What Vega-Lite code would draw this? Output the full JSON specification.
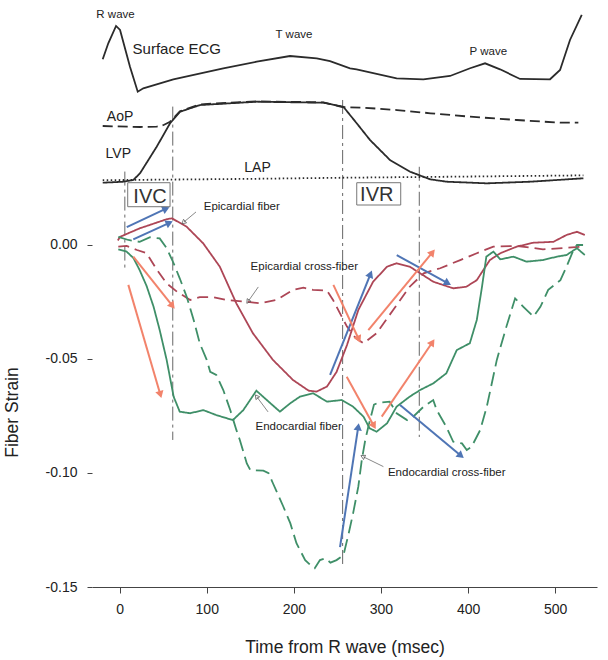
{
  "$schema": "https://vega.github.io/schema/vega-lite/v6.json",
  "width": 505,
  "height": 577,
  "autosize": {"type": "none"},
  "padding": {"left": 92, "top": 10, "right": 11, "bottom": 73},
  "background": "white",
  "config": {"view": {"stroke": null}, "font": "Liberation Sans", "axis": {"grid": false}},
  "datasets": {
    "strain": [
      {"g":"Epicardial fiber","t":-2,"s":0.002},{"g":"Epicardial fiber","t":0.5,"s":0.0036},{"g":"Epicardial fiber","t":23,"s":0.0073},{"g":"Epicardial fiber","t":54,"s":0.0113},{"g":"Epicardial fiber","t":60,"s":0.0117},{"g":"Epicardial fiber","t":77,"s":0.008},{"g":"Epicardial fiber","t":96,"s":0.0007},{"g":"Epicardial fiber","t":115,"s":-0.0095},{"g":"Epicardial fiber","t":134,"s":-0.0256},{"g":"Epicardial fiber","t":153,"s":-0.0387},{"g":"Epicardial fiber","t":176,"s":-0.0504},{"g":"Epicardial fiber","t":199,"s":-0.0592},{"g":"Epicardial fiber","t":217,"s":-0.0639},{"g":"Epicardial fiber","t":226,"s":-0.0643},{"g":"Epicardial fiber","t":238,"s":-0.0621},{"g":"Epicardial fiber","t":249,"s":-0.0557},{"g":"Epicardial fiber","t":261,"s":-0.0439},{"g":"Epicardial fiber","t":274,"s":-0.0285},{"g":"Epicardial fiber","t":291,"s":-0.0161},{"g":"Epicardial fiber","t":307,"s":-0.0095},{"g":"Epicardial fiber","t":318,"s":-0.008},{"g":"Epicardial fiber","t":333,"s":-0.0095},{"g":"Epicardial fiber","t":345,"s":-0.0124},{"g":"Epicardial fiber","t":360,"s":-0.0161},{"g":"Epicardial fiber","t":383,"s":-0.019},{"g":"Epicardial fiber","t":398,"s":-0.0183},{"g":"Epicardial fiber","t":410,"s":-0.0154},{"g":"Epicardial fiber","t":425,"s":-0.0066},{"g":"Epicardial fiber","t":437,"s":-0.0036},{"g":"Epicardial fiber","t":456,"s":-0.0007},{"g":"Epicardial fiber","t":475,"s":0.001},{"g":"Epicardial fiber","t":498,"s":0.0014},{"g":"Epicardial fiber","t":513,"s":0.0044},{"g":"Epicardial fiber","t":525,"s":0.0058},{"g":"Epicardial fiber","t":534,"s":0.0044},
      {"g":"Epicardial cross-fiber","t":-1.5,"s":-0.0007},{"g":"Epicardial cross-fiber","t":8,"s":-0.0004},{"g":"Epicardial cross-fiber","t":20,"s":-0.0022},{"g":"Epicardial cross-fiber","t":31,"s":-0.0036},{"g":"Epicardial cross-fiber","t":43,"s":-0.011},{"g":"Epicardial cross-fiber","t":54,"s":-0.0168},{"g":"Epicardial cross-fiber","t":66,"s":-0.0205},{"g":"Epicardial cross-fiber","t":81,"s":-0.0241},{"g":"Epicardial cross-fiber","t":92,"s":-0.0229},{"g":"Epicardial cross-fiber","t":108,"s":-0.0229},{"g":"Epicardial cross-fiber","t":123,"s":-0.0241},{"g":"Epicardial cross-fiber","t":146,"s":-0.0249},{"g":"Epicardial cross-fiber","t":161,"s":-0.0256},{"g":"Epicardial cross-fiber","t":180,"s":-0.0241},{"g":"Epicardial cross-fiber","t":199,"s":-0.0197},{"g":"Epicardial cross-fiber","t":211,"s":-0.0187},{"g":"Epicardial cross-fiber","t":222,"s":-0.0197},{"g":"Epicardial cross-fiber","t":238,"s":-0.02},{"g":"Epicardial cross-fiber","t":245,"s":-0.0241},{"g":"Epicardial cross-fiber","t":253,"s":-0.03},{"g":"Epicardial cross-fiber","t":261,"s":-0.0358},{"g":"Epicardial cross-fiber","t":271,"s":-0.0408},{"g":"Epicardial cross-fiber","t":280,"s":-0.0431},{"g":"Epicardial cross-fiber","t":295,"s":-0.0387},{"g":"Epicardial cross-fiber","t":314,"s":-0.0285},{"g":"Epicardial cross-fiber","t":333,"s":-0.0183},{"g":"Epicardial cross-fiber","t":349,"s":-0.0124},{"g":"Epicardial cross-fiber","t":368,"s":-0.0102},{"g":"Epicardial cross-fiber","t":391,"s":-0.0066},{"g":"Epicardial cross-fiber","t":410,"s":-0.0036},{"g":"Epicardial cross-fiber","t":429,"s":-0.0007},{"g":"Epicardial cross-fiber","t":456,"s":-0.0004},{"g":"Epicardial cross-fiber","t":486,"s":-0.0019},{"g":"Epicardial cross-fiber","t":511,"s":-0.0013},{"g":"Epicardial cross-fiber","t":534,"s":-0.0007},
      {"g":"Endocardial fiber","t":-1.5,"s":-0.0019},{"g":"Endocardial fiber","t":8,"s":-0.0029},{"g":"Endocardial fiber","t":16,"s":-0.0058},{"g":"Endocardial fiber","t":23,"s":-0.011},{"g":"Endocardial fiber","t":31,"s":-0.018},{"g":"Endocardial fiber","t":39,"s":-0.0271},{"g":"Endocardial fiber","t":46,"s":-0.0373},{"g":"Endocardial fiber","t":54,"s":-0.0504},{"g":"Endocardial fiber","t":62,"s":-0.0665},{"g":"Endocardial fiber","t":69,"s":-0.0731},{"g":"Endocardial fiber","t":81,"s":-0.0738},{"g":"Endocardial fiber","t":96,"s":-0.0724},{"g":"Endocardial fiber","t":111,"s":-0.0746},{"g":"Endocardial fiber","t":130,"s":-0.0768},{"g":"Endocardial fiber","t":142,"s":-0.0724},{"g":"Endocardial fiber","t":157,"s":-0.0639},{"g":"Endocardial fiber","t":169,"s":-0.068},{"g":"Endocardial fiber","t":184,"s":-0.0731},{"g":"Endocardial fiber","t":196,"s":-0.0694},{"g":"Endocardial fiber","t":207,"s":-0.0665},{"g":"Endocardial fiber","t":222,"s":-0.065},{"g":"Endocardial fiber","t":238,"s":-0.0687},{"g":"Endocardial fiber","t":255,"s":-0.068},{"g":"Endocardial fiber","t":268,"s":-0.0709},{"g":"Endocardial fiber","t":280,"s":-0.0753},{"g":"Endocardial fiber","t":287,"s":-0.0804},{"g":"Endocardial fiber","t":295,"s":-0.0819},{"g":"Endocardial fiber","t":307,"s":-0.0782},{"g":"Endocardial fiber","t":318,"s":-0.0709},{"g":"Endocardial fiber","t":333,"s":-0.0665},{"g":"Endocardial fiber","t":345,"s":-0.0636},{"g":"Endocardial fiber","t":360,"s":-0.0607},{"g":"Endocardial fiber","t":375,"s":-0.0563},{"g":"Endocardial fiber","t":387,"s":-0.0461},{"g":"Endocardial fiber","t":402,"s":-0.0431},{"g":"Endocardial fiber","t":410,"s":-0.0329},{"g":"Endocardial fiber","t":416,"s":-0.0183},{"g":"Endocardial fiber","t":421,"s":-0.0051},{"g":"Endocardial fiber","t":429,"s":-0.0029},{"g":"Endocardial fiber","t":437,"s":-0.0063},{"g":"Endocardial fiber","t":452,"s":-0.0051},{"g":"Endocardial fiber","t":467,"s":-0.0073},{"g":"Endocardial fiber","t":486,"s":-0.0066},{"g":"Endocardial fiber","t":502,"s":-0.0051},{"g":"Endocardial fiber","t":513,"s":-0.0044},{"g":"Endocardial fiber","t":525,"s":-0.0014},{"g":"Endocardial fiber","t":534,"s":-0.0044},
      {"g":"Endocardial cross-fiber","t":-1.5,"s":0.0036},{"g":"Endocardial cross-fiber","t":10,"s":0.0022},{"g":"Endocardial cross-fiber","t":23,"s":0.0014},{"g":"Endocardial cross-fiber","t":35,"s":0.0034},{"g":"Endocardial cross-fiber","t":46,"s":0.0029},{"g":"Endocardial cross-fiber","t":54,"s":-0.0014},{"g":"Endocardial cross-fiber","t":62,"s":-0.008},{"g":"Endocardial cross-fiber","t":69,"s":-0.0146},{"g":"Endocardial cross-fiber","t":77,"s":-0.0227},{"g":"Endocardial cross-fiber","t":85,"s":-0.0329},{"g":"Endocardial cross-fiber","t":92,"s":-0.0431},{"g":"Endocardial cross-fiber","t":100,"s":-0.0504},{"g":"Endocardial cross-fiber","t":104,"s":-0.0556},{"g":"Endocardial cross-fiber","t":111,"s":-0.057},{"g":"Endocardial cross-fiber","t":119,"s":-0.0636},{"g":"Endocardial cross-fiber","t":127,"s":-0.0724},{"g":"Endocardial cross-fiber","t":134,"s":-0.0811},{"g":"Endocardial cross-fiber","t":138,"s":-0.0855},{"g":"Endocardial cross-fiber","t":146,"s":-0.0958},{"g":"Endocardial cross-fiber","t":150,"s":-0.0987},{"g":"Endocardial cross-fiber","t":165,"s":-0.099},{"g":"Endocardial cross-fiber","t":171,"s":-0.1001},{"g":"Endocardial cross-fiber","t":176,"s":-0.1045},{"g":"Endocardial cross-fiber","t":188,"s":-0.1148},{"g":"Endocardial cross-fiber","t":196,"s":-0.1221},{"g":"Endocardial cross-fiber","t":203,"s":-0.1308},{"g":"Endocardial cross-fiber","t":213,"s":-0.1382},{"g":"Endocardial cross-fiber","t":219,"s":-0.1404},{"g":"Endocardial cross-fiber","t":224,"s":-0.1418},{"g":"Endocardial cross-fiber","t":230,"s":-0.1382},{"g":"Endocardial cross-fiber","t":236,"s":-0.1374},{"g":"Endocardial cross-fiber","t":242,"s":-0.1393},{"g":"Endocardial cross-fiber","t":249,"s":-0.1382},{"g":"Endocardial cross-fiber","t":257,"s":-0.136},{"g":"Endocardial cross-fiber","t":263,"s":-0.1264},{"g":"Endocardial cross-fiber","t":268,"s":-0.1177},{"g":"Endocardial cross-fiber","t":274,"s":-0.106},{"g":"Endocardial cross-fiber","t":278,"s":-0.0943},{"g":"Endocardial cross-fiber","t":282,"s":-0.0855},{"g":"Endocardial cross-fiber","t":285.5,"s":-0.0797},{"g":"Endocardial cross-fiber","t":292,"s":-0.07},{"g":"Endocardial cross-fiber","t":297,"s":-0.0692},{"g":"Endocardial cross-fiber","t":310,"s":-0.0687},{"g":"Endocardial cross-fiber","t":318,"s":-0.0738},{"g":"Endocardial cross-fiber","t":330,"s":-0.0768},{"g":"Endocardial cross-fiber","t":337,"s":-0.0753},{"g":"Endocardial cross-fiber","t":349,"s":-0.0709},{"g":"Endocardial cross-fiber","t":360,"s":-0.068},{"g":"Endocardial cross-fiber","t":364,"s":-0.0724},{"g":"Endocardial cross-fiber","t":375,"s":-0.0797},{"g":"Endocardial cross-fiber","t":383,"s":-0.0863},{"g":"Endocardial cross-fiber","t":393,"s":-0.087},{"g":"Endocardial cross-fiber","t":398.5,"s":-0.0899},{"g":"Endocardial cross-fiber","t":404,"s":-0.0885},{"g":"Endocardial cross-fiber","t":414,"s":-0.0811},{"g":"Endocardial cross-fiber","t":421.5,"s":-0.0709},{"g":"Endocardial cross-fiber","t":433,"s":-0.0504},{"g":"Endocardial cross-fiber","t":444,"s":-0.0358},{"g":"Endocardial cross-fiber","t":454,"s":-0.0234},{"g":"Endocardial cross-fiber","t":463.5,"s":-0.0271},{"g":"Endocardial cross-fiber","t":475,"s":-0.0314},{"g":"Endocardial cross-fiber","t":483,"s":-0.0271},{"g":"Endocardial cross-fiber","t":492,"s":-0.0197},{"g":"Endocardial cross-fiber","t":506,"s":-0.0154},{"g":"Endocardial cross-fiber","t":513,"s":-0.0095},{"g":"Endocardial cross-fiber","t":521,"s":-0.0022},{"g":"Endocardial cross-fiber","t":525,"s":0},{"g":"Endocardial cross-fiber","t":532,"s":0}
    ],
    "events": [
      {"event":"IVC start","t":6,"s":0.0322,"s2":-0.011},
      {"event":"IVC end","t":61,"s":0.0607,"s2":-0.0855},
      {"event":"IVR start","t":256,"s":0.0636,"s2":-0.1412},
      {"event":"IVR end","t":344,"s":0.0343,"s2":-0.0842}
    ],
    "arrows": [
      {"c":"blue","t":8.2,"s":0.0078,"t2":52.1,"s2":0.0157},
      {"c":"blue","t":15.7,"s":0.0025,"t2":55.9,"s2":0.0095},
      {"c":"blue","t":241.6,"s":-0.057,"t2":287.5,"s2":-0.0132},
      {"c":"blue","t":318.1,"s":-0.0044,"t2":375.5,"s2":-0.0165},
      {"c":"blue","t":321.9,"s":-0.0702,"t2":390.8,"s2":-0.0921},
      {"c":"blue","t":253,"s":-0.1325,"t2":273.7,"s2":-0.0803},
      {"c":"salmon","t":10,"s":-0.0175,"t2":46.4,"s2":-0.0651},
      {"c":"salmon","t":15.7,"s":-0.0051,"t2":59.8,"s2":-0.0263},
      {"c":"salmon","t":245.4,"s":-0.0175,"t2":274,"s2":-0.0409},
      {"c":"salmon","t":285.5,"s":-0.0373,"t2":358.3,"s2":-0.0036},
      {"c":"salmon","t":260.7,"s":-0.0578,"t2":291.3,"s2":-0.0789},
      {"c":"salmon","t":300.9,"s":-0.0753,"t2":358.3,"s2":-0.0431}
    ],
    "leaders": [
      {"t":87.7,"s":0.0145,"t2":73.9,"s2":0.0101},
      {"t":159.2,"s":-0.0184,"t2":147.8,"s2":-0.0246},
      {"t":170.4,"s":-0.0732,"t2":157.7,"s2":-0.0667},
      {"t":302.8,"s":-0.0972,"t2":279.8,"s2":-0.0929}
    ],
    "slabels": [
      {"label":"Epicardial fiber","t":140.2,"s":0.0168},
      {"label":"Epicardial cross-fiber","t":212,"s":-0.0095},
      {"label":"Endocardial fiber","t":205.5,"s":-0.08},
      {"label":"Endocardial cross-fiber","t":375.5,"s":-0.1001}
    ],
    "pressure": [
      {"g":"LVP","t":-19.4,"p":5},{"g":"LVP","t":4.2,"p":6.3},{"g":"LVP","t":15.7,"p":8.5},{"g":"LVP","t":23.4,"p":17.2},{"g":"LVP","t":42.6,"p":51.7},{"g":"LVP","t":57.9,"p":82},{"g":"LVP","t":69.3,"p":97},{"g":"LVP","t":92.3,"p":105.7},{"g":"LVP","t":157.4,"p":110},{"g":"LVP","t":233.9,"p":108.7},{"g":"LVP","t":256.8,"p":103.5},{"g":"LVP","t":272.2,"p":82},{"g":"LVP","t":287.5,"p":60.3},{"g":"LVP","t":310.4,"p":34.4},{"g":"LVP","t":333.4,"p":19.3},{"g":"LVP","t":356.4,"p":9.4},{"g":"LVP","t":375.5,"p":6.3},{"g":"LVP","t":421.5,"p":4.2},{"g":"LVP","t":471.2,"p":6.3},{"g":"LVP","t":532.4,"p":10.7},
      {"g":"AoP","t":-19.4,"p":78.5},{"g":"AoP","t":23.4,"p":77.2},{"g":"AoP","t":42.6,"p":77.6},{"g":"AoP","t":50,"p":79.5},{"g":"AoP","t":57.9,"p":84.1},{"g":"AoP","t":69.3,"p":97.5},{"g":"AoP","t":92.3,"p":106.6},{"g":"AoP","t":157.4,"p":110.4},{"g":"AoP","t":233.9,"p":109.2},{"g":"AoP","t":255.6,"p":102.9},{"g":"AoP","t":280.2,"p":102.3},{"g":"AoP","t":318.5,"p":99.2},{"g":"AoP","t":356.9,"p":95},{"g":"AoP","t":402.3,"p":90.6},{"g":"AoP","t":455.9,"p":86.3},{"g":"AoP","t":505.6,"p":82.8},{"g":"AoP","t":526.6,"p":82.8},
      {"g":"LAP","t":-19.4,"p":8.3},{"g":"LAP","t":150,"p":10},{"g":"LAP","t":260,"p":11.5},{"g":"LAP","t":400,"p":13},{"g":"LAP","t":532.4,"p":14.5}
    ],
    "boxes": [
      {"phase":"IVC","t":9.3,"t2":57.9,"p":5,"p2":-26.1},
      {"phase":"IVR","t":272.2,"t2":322.7,"p":5,"p2":-23.9}
    ],
    "plabels": [
      {"kind":"trace","label":"AoP","t":0.5,"p":90.6},
      {"kind":"trace","label":"LVP","t":-1.5,"p":42.2},
      {"kind":"trace","label":"LAP","t":158.3,"p":23.7},
      {"kind":"phase","label":"IVC","t":34.9,"p":-13.2},
      {"kind":"phase","label":"IVR","t":295.2,"p":-11}
    ],
    "ecg": [
      {"t":-19.4,"mv":0.383},{"t":-13,"mv":0.68},{"t":-4.1,"mv":1.0},{"t":0.5,"mv":0.926},{"t":11.9,"mv":0.246},{"t":20.8,"mv":-0.217},{"t":27.2,"mv":-0.154},{"t":61.7,"mv":0.013},{"t":119,"mv":0.217},{"t":157.4,"mv":0.339},{"t":195.6,"mv":0.444},{"t":226.3,"mv":0.402},{"t":241.5,"mv":0.35},{"t":264.5,"mv":0.217},{"t":272,"mv":0.198},{"t":318,"mv":0.031},{"t":348.7,"mv":0.013},{"t":379.3,"mv":0.074},{"t":402.3,"mv":0.217},{"t":419.5,"mv":0.309},{"t":436.7,"mv":0.198},{"t":459.7,"mv":0.019},{"t":494.1,"mv":0.013},{"t":505.6,"mv":0.185},{"t":517,"mv":0.741},{"t":530.5,"mv":1.204}
    ],
    "elabels": [
      {"kind":"wave","label":"R wave","t":-4.7,"mv":1.204},
      {"kind":"title","label":"Surface ECG","t":65.6,"mv":0.569},
      {"kind":"wave","label":"T wave","t":200.2,"mv":0.833},
      {"kind":"wave","label":"P wave","t":423.3,"mv":0.524}
    ]
  },
  "layer": [
    {
      "encoding": {
        "x": {"field": "t", "type": "quantitative", "scale": {"domain": [-31.7, 548], "nice": false, "zero": false},
          "axis": {"title": "Time from R wave (msec)", "values": [0, 100, 200, 300, 400, 500], "format": "d", "tickSize": 6, "labelPadding": 9, "labelFontSize": 14, "titleFontSize": 17.5, "titleFontWeight": "normal", "titleY": 51, "domainColor": "#444", "tickColor": "#444", "labelColor": "#222", "titleColor": "#222"}},
        "y": {"field": "s", "type": "quantitative", "scale": {"domain": [-0.15, 0.10307], "nice": false, "zero": false},
          "axis": {"title": "Fiber Strain", "values": [-0.15, -0.1, -0.05, 0], "format": ".2f", "labelExpr": "replace(datum.label, '\u2212', '-')", "domain": false, "tickSize": 5, "labelPadding": 10, "labelFontSize": 14, "titleFontSize": 17.5, "titleFontWeight": "normal", "titleX": -71, "titleY": 402, "tickColor": "#444", "labelColor": "#222", "titleColor": "#222"}}
      },
      "layer": [
        {
          "data": {"name": "events"},
          "mark": {"type": "rule", "color": "#555", "strokeWidth": 0.9, "strokeDash": [14, 4, 3, 4]},
          "encoding": {"y2": {"field": "s2"}}
        },
        {
          "data": {"values": [{}]},
          "mark": {"type": "rule", "color": "#444", "strokeWidth": 1},
          "encoding": {"x": {"datum": -31.7}, "y": {"datum": -0.15}, "y2": {"datum": 0.0036}}
        },
        {
          "data": {"name": "strain"},
          "mark": {"type": "line", "strokeWidth": 1.8, "strokeCap": "butt"},
          "encoding": {
            "color": {"field": "g", "type": "nominal", "scale": {"domain": ["Epicardial fiber", "Epicardial cross-fiber", "Endocardial fiber", "Endocardial cross-fiber"], "range": ["#ad4656", "#ad4656", "#3f8f68", "#3f8f68"]}, "legend": null},
            "strokeDash": {"field": "g", "type": "nominal", "scale": {"domain": ["Epicardial fiber", "Epicardial cross-fiber", "Endocardial fiber", "Endocardial cross-fiber"], "range": [[1, 0], [11, 6], [1, 0], [14, 6]]}, "legend": null}
          }
        },
        {
          "data": {"name": "leaders"},
          "mark": {"type": "rule", "color": "#555", "strokeWidth": 0.7},
          "encoding": {"x2": {"field": "t2"}, "y2": {"field": "s2"}}
        },
        {
          "data": {"name": "arrows"},
          "transform": [{"filter": "datum.c == 'blue'"}],
          "mark": {"type": "rule", "color": "#4f75b5", "strokeWidth": 2},
          "encoding": {"x2": {"field": "t2"}, "y2": {"field": "s2"}}
        },
        {
          "data": {"name": "arrows"},
          "transform": [{"filter": "datum.c == 'salmon'"}],
          "mark": {"type": "rule", "color": "#f2836b", "strokeWidth": 2},
          "encoding": {"x2": {"field": "t2"}, "y2": {"field": "s2"}}
        },
        {
          "data": {"name": "arrows"},
          "transform": [{"filter": "datum.c == 'blue'"}, {"calculate": "atan2((datum.t2 - datum.t) * 0.871, (datum.s2 - datum.s) * 2280) * 180 / PI", "as": "ang"}],
          "mark": {"type": "point", "shape": "triangle", "filled": true, "size": 70, "color": "#4f75b5", "opacity": 1},
          "encoding": {
            "x": {"field": "t2", "type": "quantitative"},
            "y": {"field": "s2", "type": "quantitative"},
            "angle": {"field": "ang", "type": "quantitative", "scale": null}
          }
        },
        {
          "data": {"name": "arrows"},
          "transform": [{"filter": "datum.c == 'salmon'"}, {"calculate": "atan2((datum.t2 - datum.t) * 0.871, (datum.s2 - datum.s) * 2280) * 180 / PI", "as": "ang"}],
          "mark": {"type": "point", "shape": "triangle", "filled": true, "size": 70, "color": "#f2836b", "opacity": 1},
          "encoding": {
            "x": {"field": "t2", "type": "quantitative"},
            "y": {"field": "s2", "type": "quantitative"},
            "angle": {"field": "ang", "type": "quantitative", "scale": null}
          }
        },
        {
          "data": {"name": "leaders"},
          "transform": [{"calculate": "atan2((datum.t2 - datum.t) * 0.871, (datum.s2 - datum.s) * 2280) * 180 / PI", "as": "ang"}],
          "mark": {"type": "point", "shape": "triangle", "filled": false, "size": 22, "color": "#555", "strokeWidth": 0.7, "opacity": 1},
          "encoding": {
            "x": {"field": "t2", "type": "quantitative"},
            "y": {"field": "s2", "type": "quantitative"},
            "angle": {"field": "ang", "type": "quantitative", "scale": null}
          }
        },
        {
          "data": {"name": "slabels"},
          "mark": {"type": "text", "fontSize": 11.5, "color": "#222", "align": "center", "baseline": "middle"},
          "encoding": {"text": {"field": "label"}}
        }
      ]
    },
    {
      "encoding": {
        "x": {"field": "t", "type": "quantitative", "scale": {"domain": [-31.7, 548], "nice": false, "zero": false}},
        "y": {"field": "p", "type": "quantitative", "scale": {"domain": [-519.1, 228.9], "nice": false, "zero": false}, "axis": {"domain": false, "ticks": false, "labels": false, "title": null, "grid": false}}
      },
      "layer": [
        {
          "data": {"name": "pressure"},
          "mark": {"type": "line", "color": "#2b2b2b", "strokeWidth": 1.8, "strokeCap": "butt"},
          "encoding": {
            "strokeDash": {"field": "g", "type": "nominal", "scale": {"domain": ["LVP", "AoP", "LAP"], "range": [[1, 0], [10, 5], [1.5, 2.5]]}, "legend": null}
          }
        },
        {
          "data": {"name": "boxes"},
          "mark": {"type": "rect", "fill": "white", "fillOpacity": 0, "stroke": "#777", "strokeWidth": 1},
          "encoding": {"x2": {"field": "t2"}, "y2": {"field": "p2"}}
        },
        {
          "data": {"name": "plabels"},
          "transform": [{"filter": "datum.kind == 'trace'"}],
          "mark": {"type": "text", "fontSize": 14, "color": "#222", "align": "center", "baseline": "middle"},
          "encoding": {"text": {"field": "label"}}
        },
        {
          "data": {"name": "plabels"},
          "transform": [{"filter": "datum.kind == 'phase'"}],
          "mark": {"type": "text", "fontSize": 20, "color": "#333", "align": "center", "baseline": "middle"},
          "encoding": {"text": {"field": "label"}}
        }
      ]
    },
    {
      "encoding": {
        "x": {"field": "t", "type": "quantitative", "scale": {"domain": [-31.7, 548], "nice": false, "zero": false}},
        "y": {"field": "mv", "type": "quantitative", "scale": {"domain": [-9.389, 1.296], "nice": false, "zero": false}, "axis": {"domain": false, "ticks": false, "labels": false, "title": null, "grid": false}}
      },
      "layer": [
        {
          "data": {"name": "ecg"},
          "mark": {"type": "line", "color": "#2b2b2b", "strokeWidth": 1.8}
        },
        {
          "data": {"name": "elabels"},
          "transform": [{"filter": "datum.kind == 'wave'"}],
          "mark": {"type": "text", "fontSize": 11.5, "color": "#222", "align": "center", "baseline": "middle"},
          "encoding": {"text": {"field": "label"}}
        },
        {
          "data": {"name": "elabels"},
          "transform": [{"filter": "datum.kind == 'title'"}],
          "mark": {"type": "text", "fontSize": 15, "color": "#222", "align": "center", "baseline": "middle"},
          "encoding": {"text": {"field": "label"}}
        }
      ]
    }
  ],
  "resolve": {"scale": {"y": "independent", "strokeDash": "independent", "color": "independent"}}
}
